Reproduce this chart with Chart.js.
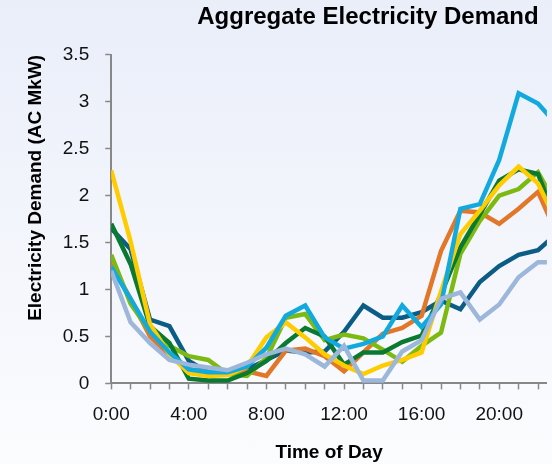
<!DOCTYPE html>
<html>
<head>
<meta charset="utf-8">
<title>Aggregate Electricity Demand</title>
<script src="https://cdn.jsdelivr.net/npm/chart.js@4.4.1/dist/chart.umd.min.js"></script>
<style>
  html, body { margin: 0; padding: 0; }
  body {
    width: 552px; height: 464px; overflow: hidden;
    background: linear-gradient(to bottom, #e9eef9 0%, #f4f6fc 55%, #fbfcfe 100%);
  }
  #wrap { position: relative; width: 552px; height: 464px; }
</style>
</head>
<body>
<div id="wrap"><canvas id="myChart"></canvas></div>
<script>
// hour of day for every point
var hours = [0, 1, 2, 3, 4, 5, 6, 7, 8, 9, 10, 11, 12, 13, 14, 15, 16, 17, 18, 19, 20, 21, 22, 23];
var tickHours = [0, 4, 8, 12, 16, 20];
var tickLabels = ["0:00", "4:00", "8:00", "12:00", "16:00", "20:00"];

// demand per hour (AC MkW), one array per profile
var steelBlue = [1.2, 0.65, 0.43, 0.25, 0.2, 0.17, 0.14, 0.22, 0.31, 0.37, 0.31, 0.18, 0.4, 0.03, 0.03, 0.34, 0.46, 0.9, 0.97, 0.68, 0.84, 1.13, 1.29, 1.29];
var cyan = [1.24, 0.9, 0.55, 0.33, 0.15, 0.12, 0.12, 0.18, 0.38, 0.72, 0.83, 0.49, 0.37, 0.42, 0.5, 0.83, 0.6, 0.84, 1.86, 1.91, 2.38, 3.09, 2.98, 2.75];
var yellow = [2.27, 1.51, 0.63, 0.31, 0.11, 0.08, 0.09, 0.18, 0.49, 0.65, 0.49, 0.31, 0.19, 0.1, 0.19, 0.25, 0.33, 0.98, 1.59, 1.84, 2.11, 2.31, 2.13, 1.7];
var darkGreen = [1.7, 1.27, 0.61, 0.43, 0.05, 0.03, 0.03, 0.11, 0.24, 0.43, 0.59, 0.5, 0.2, 0.33, 0.33, 0.44, 0.51, 0.95, 1.45, 1.8, 2.16, 2.28, 2.23, 1.7];
var lime = [1.37, 0.85, 0.55, 0.4, 0.29, 0.25, 0.1, 0.08, 0.27, 0.7, 0.74, 0.46, 0.52, 0.48, 0.36, 0.23, 0.4, 0.54, 1.38, 1.73, 2.0, 2.07, 2.25, 1.88];
var orange = [1.27, 0.9, 0.5, 0.3, 0.15, 0.12, 0.12, 0.13, 0.08, 0.35, 0.37, 0.29, 0.13, 0.33, 0.53, 0.59, 0.72, 1.41, 1.84, 1.82, 1.7, 1.86, 2.04, 1.58];
var darkTeal = [1.65, 1.43, 0.68, 0.61, 0.24, 0.12, 0.12, 0.15, 0.25, 0.35, 0.33, 0.34, 0.55, 0.83, 0.7, 0.7, 0.76, 0.88, 0.79, 1.08, 1.25, 1.37, 1.42, 1.6];

var fontFam = "'Liberation Sans', Arial, sans-serif";

function pts(vals) {
  return hours.map(function (h, i) { return {x: h, y: vals[i]}; });
}
function line(vals, color) {
  return {
    data: pts(vals),
    borderColor: color,
    backgroundColor: color,
    borderWidth: 4.5,
    pointRadius: 0,
    fill: false,
    tension: 0
  };
}

new Chart("myChart", {
  type: "line",
  data: {
    // first dataset is drawn on top
    datasets: [
      line(steelBlue, "#9cb7da"),
      line(cyan, "#12aade"),
      line(yellow, "#ffcc00"),
      line(darkGreen, "#0a7a32"),
      line(lime, "#7cba12"),
      line(orange, "#e2772a"),
      line(darkTeal, "#0c5d85")
    ]
  },
  options: {
    responsive: true,
    maintainAspectRatio: false,
    animation: false,
    layout: {padding: 0},
    plugins: {
      legend: {display: false},
      tooltip: {enabled: false},
      title: {
        display: true,
        text: "Aggregate Electricity Demand\u00a0\u00a0",
        align: "end",
        color: "#000",
        font: {family: fontFam, size: 24, weight: "bold"},
        padding: {top: 3, bottom: 23}
      }
    },
    scales: {
      x: {
        type: "linear",
        min: 0,
        max: 22.46,
        border: {color: "#888", width: 2},
        grid: {drawOnChartArea: false, color: "#888", tickLength: 6, tickWidth: 1.5},
        ticks: {
          stepSize: 1,
          includeBounds: false,
          autoSkip: false,
          maxTicksLimit: 40,
          maxRotation: 0,
          padding: 14,
          color: "#111",
          font: {family: fontFam, size: 19},
          callback: function (v) {
            var i = tickHours.indexOf(v);
            return i >= 0 ? tickLabels[i] : "";
          }
        },
        title: {
          display: true,
          text: "Time of Day",
          color: "#000",
          font: {family: fontFam, size: 19, weight: "bold"},
          padding: {top: 1, bottom: 0}
        }
      },
      y: {
        min: 0,
        max: 3.5,
        border: {color: "#888", width: 2},
        grid: {drawOnChartArea: false, color: "#888", tickLength: 6, tickWidth: 1.5},
        ticks: {
          stepSize: 0.5,
          padding: 16,
          color: "#111",
          font: {family: fontFam, size: 19},
          callback: function (v) { return String(v); }
        },
        title: {
          display: true,
          text: "Electricity Demand (AC MkW)",
          align: "end",
          color: "#000",
          font: {family: fontFam, size: 19, weight: "bold"},
          padding: {top: 24, bottom: 0}
        }
      }
    }
  }
});
</script>
</body>
</html>
